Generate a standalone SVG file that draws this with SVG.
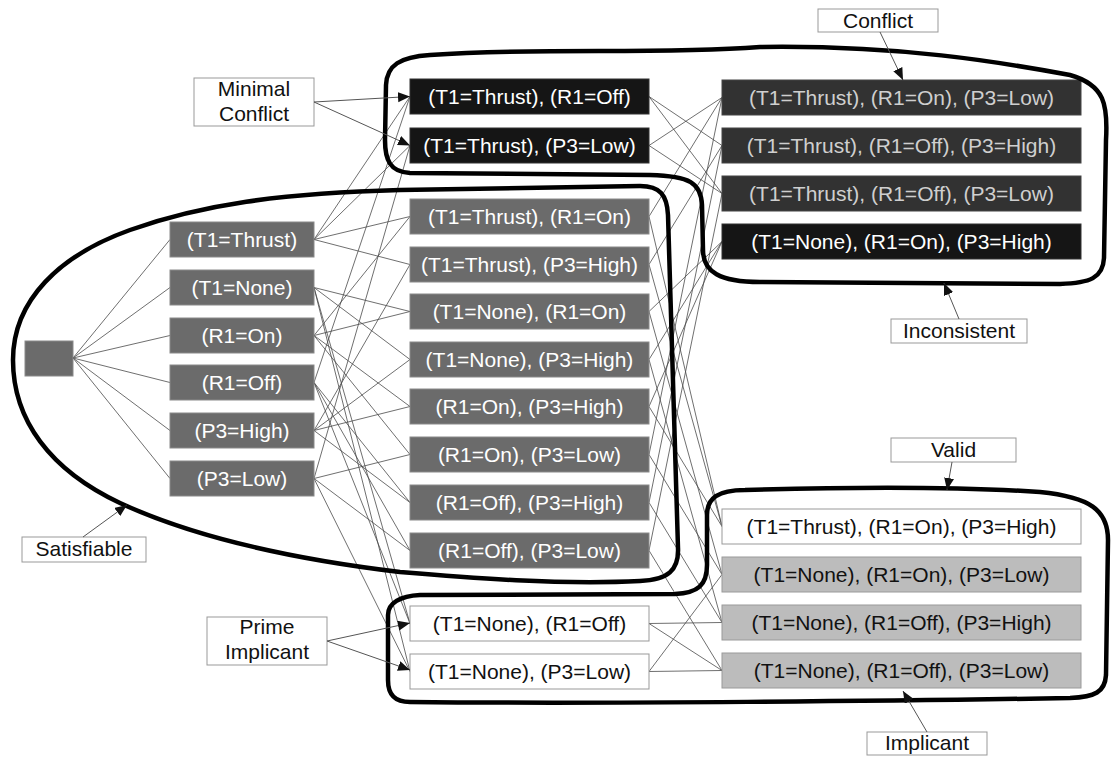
<svg xmlns="http://www.w3.org/2000/svg" width="1117" height="757" viewBox="0 0 1117 757">
<style>
text{font-family:"Liberation Sans",Arial,sans-serif;font-size:21px;text-anchor:middle}
.gray{fill:#6b6b6b;stroke:#8a8a8a;stroke-width:1}
.blk{fill:#151515;stroke:#333;stroke-width:1}
.dk{fill:#323232;stroke:#444;stroke-width:1}
.lt{fill:#bcbcbc;stroke:#9a9a9a;stroke-width:1}
.wh{fill:#fff;stroke:#999;stroke-width:1}
.lbl{fill:#fff;stroke:#999;stroke-width:1}
.tw{fill:#fff}
.tl{fill:#cfcfcf}
.tb{fill:#111}
.edge{stroke:#4a4a4a;stroke-width:0.8;fill:none}
.ptr{stroke:#555;stroke-width:1;fill:none;marker-end:url(#ah)}
.hull{fill:none;stroke:#000;stroke-width:4.5;stroke-linejoin:round}
</style>
<defs>
<marker id="ah" markerUnits="userSpaceOnUse" markerWidth="14" markerHeight="12" refX="12" refY="5" orient="auto">
<path d="M0,0 L12,5 L0,10 Z" fill="#111"/>
</marker>
</defs>
<rect width="1117" height="757" fill="#fff"/>

<g id="connectors">
<!-- root to singletons -->
<line class="edge" x1="73" y1="358" x2="170" y2="239.5"/>
<line class="edge" x1="73" y1="358" x2="170" y2="287.5"/>
<line class="edge" x1="73" y1="358" x2="170" y2="335.5"/>
<line class="edge" x1="73" y1="358" x2="170" y2="382.5"/>
<line class="edge" x1="73" y1="358" x2="170" y2="430.5"/>
<line class="edge" x1="73" y1="358" x2="170" y2="478.5"/>
<!-- T1=Thrust -> P1 P2 P3 P4 -->
<line class="edge" x1="314" y1="239.5" x2="410" y2="96.5"/>
<line class="edge" x1="314" y1="239.5" x2="410" y2="145.5"/>
<line class="edge" x1="314" y1="239.5" x2="410" y2="216.5"/>
<line class="edge" x1="314" y1="239.5" x2="410" y2="264.5"/>
<!-- T1=None -> P5 P6 P11 P12 -->
<line class="edge" x1="314" y1="287.5" x2="410" y2="311.5"/>
<line class="edge" x1="314" y1="287.5" x2="410" y2="359.5"/>
<line class="edge" x1="314" y1="287.5" x2="410" y2="623.5"/>
<line class="edge" x1="314" y1="287.5" x2="410" y2="671.5"/>
<!-- R1=On -> P3 P5 P7 P8 -->
<line class="edge" x1="314" y1="335.5" x2="410" y2="216.5"/>
<line class="edge" x1="314" y1="335.5" x2="410" y2="311.5"/>
<line class="edge" x1="314" y1="335.5" x2="410" y2="406.5"/>
<line class="edge" x1="314" y1="335.5" x2="410" y2="454.5"/>
<!-- R1=Off -> P1 P9 P10 P11 -->
<line class="edge" x1="314" y1="382.5" x2="410" y2="96.5"/>
<line class="edge" x1="314" y1="382.5" x2="410" y2="502.5"/>
<line class="edge" x1="314" y1="382.5" x2="410" y2="550.5"/>
<line class="edge" x1="314" y1="382.5" x2="410" y2="623.5"/>
<!-- P3=High -> P4 P6 P7 P9 -->
<line class="edge" x1="314" y1="430.5" x2="410" y2="264.5"/>
<line class="edge" x1="314" y1="430.5" x2="410" y2="359.5"/>
<line class="edge" x1="314" y1="430.5" x2="410" y2="406.5"/>
<line class="edge" x1="314" y1="430.5" x2="410" y2="502.5"/>
<!-- P3=Low -> P2 P8 P10 P12 -->
<line class="edge" x1="314" y1="478.5" x2="410" y2="145.5"/>
<line class="edge" x1="314" y1="478.5" x2="410" y2="454.5"/>
<line class="edge" x1="314" y1="478.5" x2="410" y2="550.5"/>
<line class="edge" x1="314" y1="478.5" x2="410" y2="671.5"/>
<!-- pairs -> triples -->
<line class="edge" x1="649" y1="96.5" x2="722" y2="145.5"/>
<line class="edge" x1="649" y1="96.5" x2="722" y2="193.5"/>
<line class="edge" x1="649" y1="145.5" x2="722" y2="97.5"/>
<line class="edge" x1="649" y1="145.5" x2="722" y2="193.5"/>
<line class="edge" x1="649" y1="216.5" x2="722" y2="97.5"/>
<line class="edge" x1="649" y1="216.5" x2="722" y2="526.5"/>
<line class="edge" x1="649" y1="264.5" x2="722" y2="145.5"/>
<line class="edge" x1="649" y1="264.5" x2="722" y2="526.5"/>
<line class="edge" x1="649" y1="311.5" x2="722" y2="241.5"/>
<line class="edge" x1="649" y1="311.5" x2="722" y2="574.5"/>
<line class="edge" x1="649" y1="359.5" x2="722" y2="241.5"/>
<line class="edge" x1="649" y1="359.5" x2="722" y2="622.5"/>
<line class="edge" x1="649" y1="406.5" x2="722" y2="241.5"/>
<line class="edge" x1="649" y1="406.5" x2="722" y2="526.5"/>
<line class="edge" x1="649" y1="454.5" x2="722" y2="97.5"/>
<line class="edge" x1="649" y1="454.5" x2="722" y2="574.5"/>
<line class="edge" x1="649" y1="502.5" x2="722" y2="145.5"/>
<line class="edge" x1="649" y1="502.5" x2="722" y2="622.5"/>
<line class="edge" x1="649" y1="550.5" x2="722" y2="193.5"/>
<line class="edge" x1="649" y1="550.5" x2="722" y2="670.5"/>
<line class="edge" x1="649" y1="623.5" x2="722" y2="622.5"/>
<line class="edge" x1="649" y1="623.5" x2="722" y2="670.5"/>
<line class="edge" x1="649" y1="671.5" x2="722" y2="574.5"/>
<line class="edge" x1="649" y1="671.5" x2="722" y2="670.5"/>
</g>

<g id="root"><rect class="gray" x="25" y="341" width="48" height="35"/></g>

<g id="s-t1-thrust"><rect class="gray" x="170" y="222" width="144" height="35"/><text class="tw" x="242" y="247">(T1=Thrust)</text></g>
<g id="s-t1-none"><rect class="gray" x="170" y="270" width="144" height="35"/><text class="tw" x="242" y="295">(T1=None)</text></g>
<g id="s-r1-on"><rect class="gray" x="170" y="318" width="144" height="35"/><text class="tw" x="242" y="343">(R1=On)</text></g>
<g id="s-r1-off"><rect class="gray" x="170" y="365" width="144" height="35"/><text class="tw" x="242" y="390">(R1=Off)</text></g>
<g id="s-p3-high"><rect class="gray" x="170" y="413" width="144" height="35"/><text class="tw" x="242" y="438">(P3=High)</text></g>
<g id="s-p3-low"><rect class="gray" x="170" y="461" width="144" height="35"/><text class="tw" x="242" y="486">(P3=Low)</text></g>

<g id="p1"><rect class="blk" x="410" y="79" width="239" height="35"/><text class="tw" x="529.5" y="104">(T1=Thrust), (R1=Off)</text></g>
<g id="p2"><rect class="blk" x="410" y="128" width="239" height="35"/><text class="tw" x="529.5" y="153">(T1=Thrust), (P3=Low)</text></g>
<g id="p3"><rect class="gray" x="410" y="199" width="239" height="35"/><text class="tw" x="529.5" y="224">(T1=Thrust), (R1=On)</text></g>
<g id="p4"><rect class="gray" x="410" y="247" width="239" height="35"/><text class="tw" x="529.5" y="272">(T1=Thrust), (P3=High)</text></g>
<g id="p5"><rect class="gray" x="410" y="294" width="239" height="35"/><text class="tw" x="529.5" y="319">(T1=None), (R1=On)</text></g>
<g id="p6"><rect class="gray" x="410" y="342" width="239" height="35"/><text class="tw" x="529.5" y="367">(T1=None), (P3=High)</text></g>
<g id="p7"><rect class="gray" x="410" y="389" width="239" height="35"/><text class="tw" x="529.5" y="414">(R1=On), (P3=High)</text></g>
<g id="p8"><rect class="gray" x="410" y="437" width="239" height="35"/><text class="tw" x="529.5" y="462">(R1=On), (P3=Low)</text></g>
<g id="p9"><rect class="gray" x="410" y="485" width="239" height="35"/><text class="tw" x="529.5" y="510">(R1=Off), (P3=High)</text></g>
<g id="p10"><rect class="gray" x="410" y="533" width="239" height="35"/><text class="tw" x="529.5" y="558">(R1=Off), (P3=Low)</text></g>
<g id="p11"><rect class="wh" x="410" y="606" width="239" height="35"/><text class="tb" x="529.5" y="631">(T1=None), (R1=Off)</text></g>
<g id="p12"><rect class="wh" x="410" y="654" width="239" height="35"/><text class="tb" x="529.5" y="679">(T1=None), (P3=Low)</text></g>

<g id="q1"><rect class="dk" x="722" y="80" width="359" height="35"/><text class="tl" x="901.5" y="105">(T1=Thrust), (R1=On), (P3=Low)</text></g>
<g id="q2"><rect class="dk" x="722" y="128" width="359" height="35"/><text class="tl" x="901.5" y="153">(T1=Thrust), (R1=Off), (P3=High)</text></g>
<g id="q3"><rect class="dk" x="722" y="176" width="359" height="35"/><text class="tl" x="901.5" y="201">(T1=Thrust), (R1=Off), (P3=Low)</text></g>
<g id="q4"><rect class="blk" x="722" y="224" width="359" height="35"/><text class="tw" x="901.5" y="249">(T1=None), (R1=On), (P3=High)</text></g>
<g id="q5"><rect class="wh" x="722" y="509" width="359" height="35"/><text class="tb" x="901.5" y="534">(T1=Thrust), (R1=On), (P3=High)</text></g>
<g id="q6"><rect class="lt" x="722" y="557" width="359" height="35"/><text class="tb" x="901.5" y="582">(T1=None), (R1=On), (P3=Low)</text></g>
<g id="q7"><rect class="lt" x="722" y="605" width="359" height="35"/><text class="tb" x="901.5" y="630">(T1=None), (R1=Off), (P3=High)</text></g>
<g id="q8"><rect class="lt" x="722" y="653" width="359" height="35"/><text class="tb" x="901.5" y="678">(T1=None), (R1=Off), (P3=Low)</text></g>

<g id="outlines">
<path class="hull" d="M430,55 C550,47 650,55 760,47 C900,45 1000,62 1070,75 C1105,85 1108,105 1106,140 L1104,258 C1103,278 1090,283 1060,284 L760,282 C720,282 703,272 703,250 L702,205 C701,183 690,176 650,175 L410,173 C390,172 385,160 385,140 L386,85 C387,65 400,57 430,55 Z"/>
<path class="hull" d="M400,190 L640,186 C660,186 667,195 668,215 L678,548 C679,570 668,580 640,581 C560,585 470,578 400,572 C300,560 200,540 120,503 C50,470 13,420 13,360 C13,300 60,255 130,230 C200,205 280,193 400,190 Z"/>
<path class="hull" d="M420,595 L675,594 C698,593 707,585 707,565 L707,515 C707,498 718,490 745,490 C850,487 950,486 1040,492 C1090,497 1108,510 1108,540 L1106,675 C1105,692 1095,697 1070,698 C900,701 600,704 410,702 C395,702 388,695 388,680 L388,615 C388,603 400,596 420,595 Z"/>
</g>

<g id="lbl-minimal-conflict"><rect class="lbl" x="194" y="78" width="120" height="48"/><text class="tb" x="254" y="96">Minimal</text><text class="tb" x="254" y="121">Conflict</text></g>
<g id="lbl-conflict"><rect class="lbl" x="818" y="9" width="120" height="23"/><text class="tb" x="878" y="28">Conflict</text></g>
<g id="lbl-inconsistent"><rect class="lbl" x="891" y="319" width="136" height="24"/><text class="tb" x="959" y="338">Inconsistent</text></g>
<g id="lbl-valid"><rect class="lbl" x="891" y="438" width="125" height="24"/><text class="tb" x="953.5" y="457">Valid</text></g>
<g id="lbl-implicant"><rect class="lbl" x="867" y="732" width="120" height="23"/><text class="tb" x="927" y="750">Implicant</text></g>
<g id="lbl-satisfiable"><rect class="lbl" x="22" y="537" width="124" height="25"/><text class="tb" x="84" y="556">Satisfiable</text></g>
<g id="lbl-prime-implicant"><rect class="lbl" x="207" y="617" width="120" height="48"/><text class="tb" x="267" y="634">Prime</text><text class="tb" x="267" y="659">Implicant</text></g>

<g id="label-pointers">
<line class="ptr" x1="314" y1="102" x2="410" y2="96.5"/>
<line class="ptr" x1="314" y1="102" x2="410" y2="145.5"/>
<line class="ptr" x1="327" y1="641" x2="410" y2="623"/>
<line class="ptr" x1="327" y1="641" x2="410" y2="670"/>
<line class="ptr" x1="880" y1="32" x2="903" y2="80"/>
<line class="ptr" x1="959" y1="319" x2="944" y2="283"/>
<line class="ptr" x1="952" y1="462" x2="947" y2="490"/>
<line class="ptr" x1="927" y1="732" x2="903" y2="691"/>
<line class="ptr" x1="83" y1="537" x2="127" y2="505"/>
</g>
</svg>
